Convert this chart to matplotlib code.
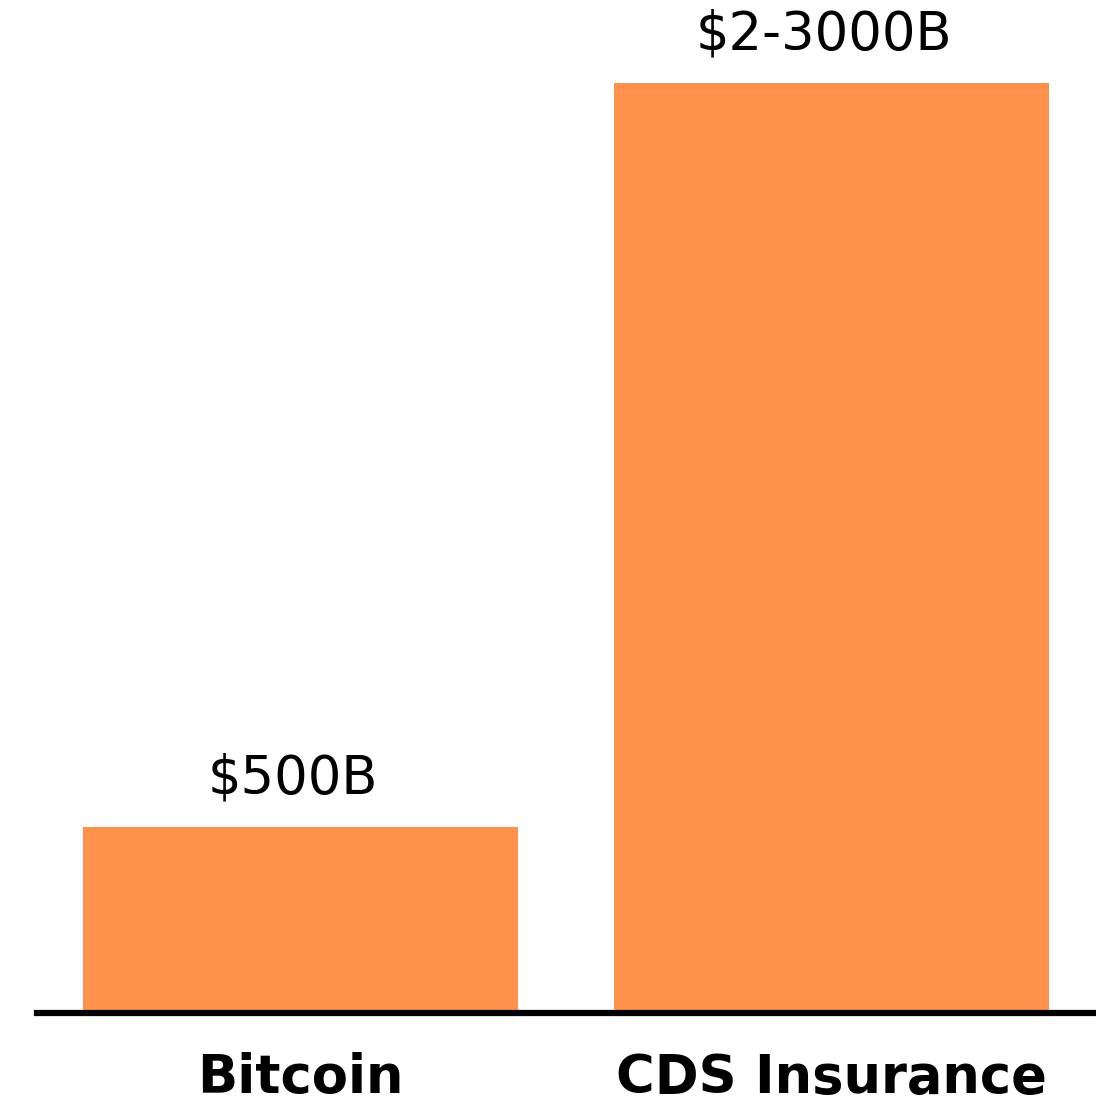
import matplotlib.pyplot as plt

categories = ["Bitcoin", "CDS Insurance"]
values = [500, 2500]
value_labels = ["$500B", "$2-3000B"]

plt.rcParams["font.family"] = ["DejaVu Sans"]

fig = plt.figure(figsize=(10.96, 11.02), dpi=100)
ax = fig.add_axes([37 / 1096, 89 / 1102, 1 - 37 / 1096, 1013 / 1102])

pos = list(range(len(categories)))
bars = ax.bar(pos, values, width=0.82, color="#ff914d")

for b, lab in zip(bars, value_labels):
    ax.text(b.get_x() + b.get_width() / 2 - 0.015, b.get_height() + 60, lab,
            ha="center", va="bottom", fontsize=38, color="black")

ax.set_xlim(-0.496, 1.498)
ax.set_ylim(0, 2723)

for s in ["top", "right", "left"]:
    ax.spines[s].set_visible(False)
ax.spines["bottom"].set_linewidth(4.5)
ax.spines["bottom"].set_color("black")

ax.set_yticks([])
ax.set_xticks(pos)
ax.set_xticklabels(categories, fontsize=38, fontweight="bold")
ax.tick_params(axis="x", length=0, pad=28)

fig.savefig("out.png", dpi=100)
